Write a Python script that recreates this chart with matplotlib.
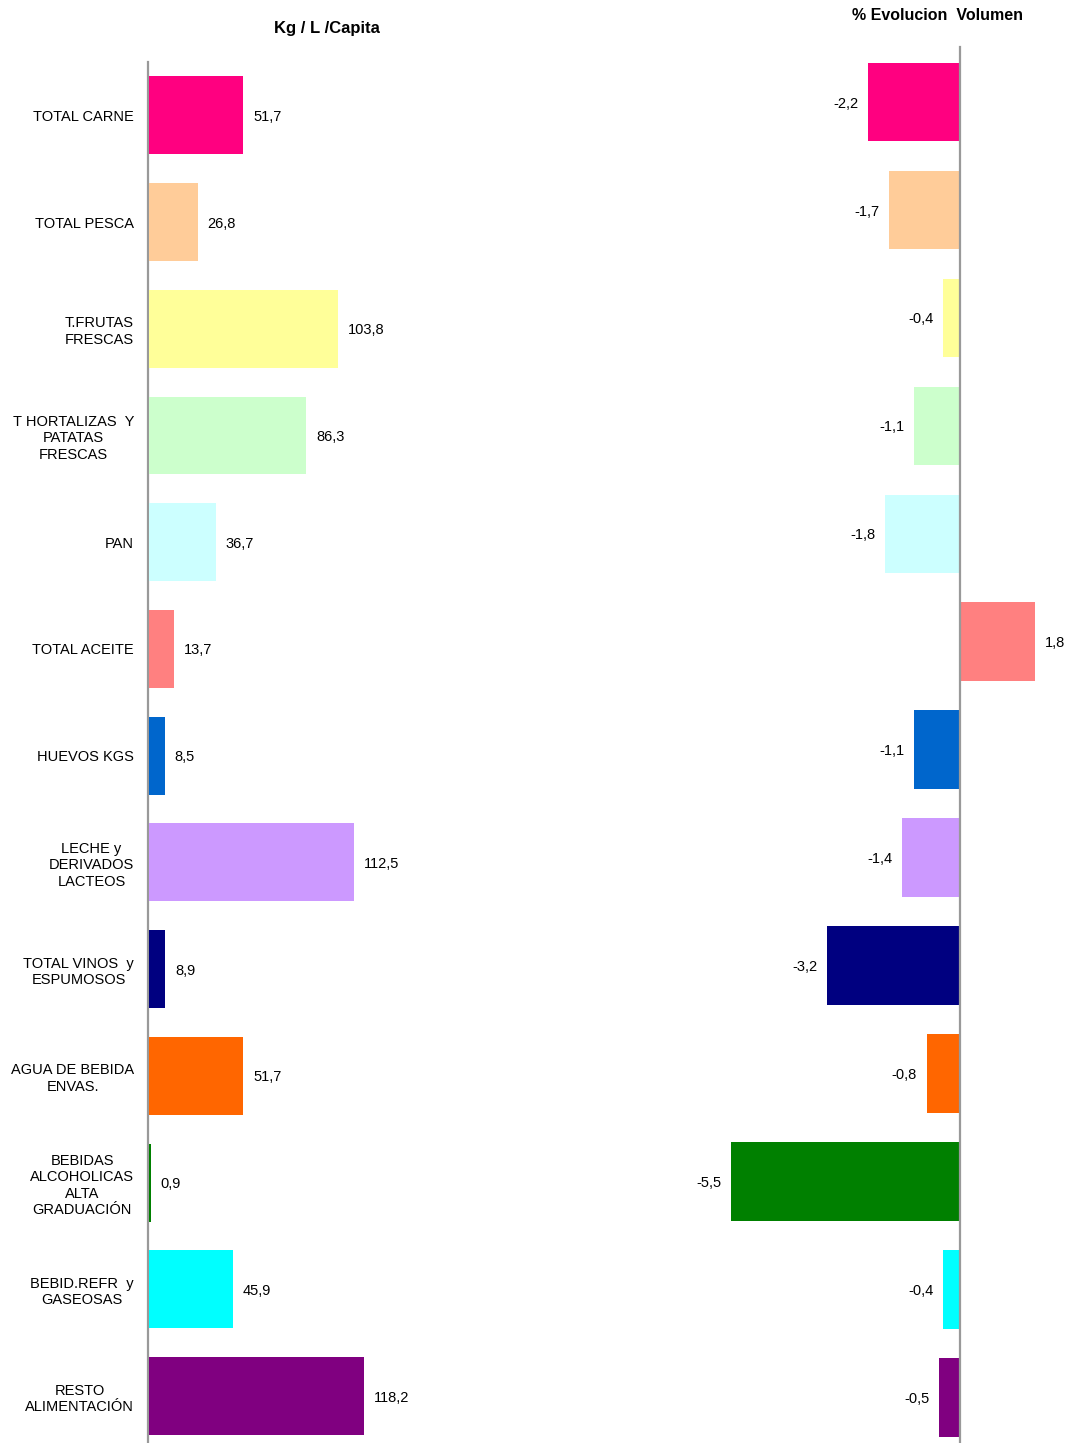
import matplotlib
matplotlib.use("Agg")
import matplotlib.pyplot as plt

plt.rcParams['font.family'] = ['Liberation Sans', 'DejaVu Sans']

categorias = [
    "TOTAL CARNE", "TOTAL PESCA", "T.FRUTAS\nFRESCAS",
    "T HORTALIZAS  Y\nPATATAS\nFRESCAS", "PAN", "TOTAL ACEITE",
    "HUEVOS KGS", "LECHE y\nDERIVADOS\nLACTEOS", "TOTAL VINOS  y\nESPUMOSOS",
    "AGUA DE BEBIDA\nENVAS.", "BEBIDAS\nALCOHOLICAS\nALTA\nGRADUACIÓN",
    "BEBID.REFR  y\nGASEOSAS", "RESTO\nALIMENTACIÓN",
]
kg_capita = [51.7, 26.8, 103.8, 86.3, 36.7, 13.7, 8.5, 112.5, 8.9, 51.7, 0.9, 45.9, 118.2]
evol_volumen = [-2.2, -1.7, -0.4, -1.1, -1.8, 1.8, -1.1, -1.4, -3.2, -0.8, -5.5, -0.4, -0.5]
colores = ["#FF0080", "#FFCC99", "#FFFF99", "#CCFFCC", "#CCFFFF", "#FF8080", "#0066CC",
           "#CC99FF", "#000080", "#FF6600", "#008000", "#00FFFF", "#800080"]

W, H = 1065, 1443
fig = plt.figure(figsize=(W / 100, H / 100), dpi=100)

def fmt(v):
    return f"{v:.1f}".replace(".", ",")

def box(x0, x1, y0, y1):
    return [x0 / W, 1 - y1 / H, (x1 - x0) / W, (y1 - y0) / H]

pos = list(range(len(categorias)))
gris = "#999999"

# panel izquierdo: Kg / L / Capita
ax1 = fig.add_axes(box(148, 520, 62, 1443))
ax1.barh(pos, kg_capita, height=0.73, color=colores, zorder=3)
ax1.set_xlim(-0.6, (520 - 148) / 1.827)
ax1.set_ylim(12.44, -0.5)
ax1.set_yticks(pos)
ax1.set_yticklabels(categorias, fontsize=10.5, multialignment="center", linespacing=1.22)
ax1.tick_params(axis="y", length=0, pad=10)
ax1.set_xticks([])
for s in ["top", "right", "bottom"]:
    ax1.spines[s].set_visible(False)
ax1.spines["left"].set_color(gris)
ax1.spines["left"].set_linewidth(1.6)
for i, v in enumerate(kg_capita):
    ax1.annotate(fmt(v), (v, i), xytext=(7, 0), textcoords="offset points",
                 ha="left", va="center_baseline", fontsize=10.5)
fig.text(327 / W, 1 - 28 / H, "Kg / L /Capita", ha="center", va="center",
         fontsize=12, fontweight="bold")

# panel derecho: % Evolucion Volumen
ax2 = fig.add_axes(box(680, 1065, 47, 1443))
ax2.barh(pos, evol_volumen, height=0.73, color=colores)
ax2.set_xlim(-(960 - 680) / 41.6, (1065 - 960) / 41.6)
ax2.set_ylim(12.42, -0.51)
ax2.set_xticks([])
ax2.set_yticks([])
for s in ["top", "right", "bottom"]:
    ax2.spines[s].set_visible(False)
ax2.spines["left"].set_position(("data", 0))
ax2.spines["left"].set_color(gris)
ax2.spines["left"].set_linewidth(1.6)
ax2.set_zorder(3)
for i, v in enumerate(evol_volumen):
    off = 7 if v > 0 else -7
    ax2.annotate(fmt(v), (v, i), xytext=(off, 0), textcoords="offset points",
                 ha="left" if v > 0 else "right", va="center_baseline", fontsize=10.5)
fig.text(937 / W, 1 - 15 / H, "% Evolucion  Volumen", ha="center", va="center",
         fontsize=11.5, fontweight="bold")

fig.savefig("out.png", dpi=100)
